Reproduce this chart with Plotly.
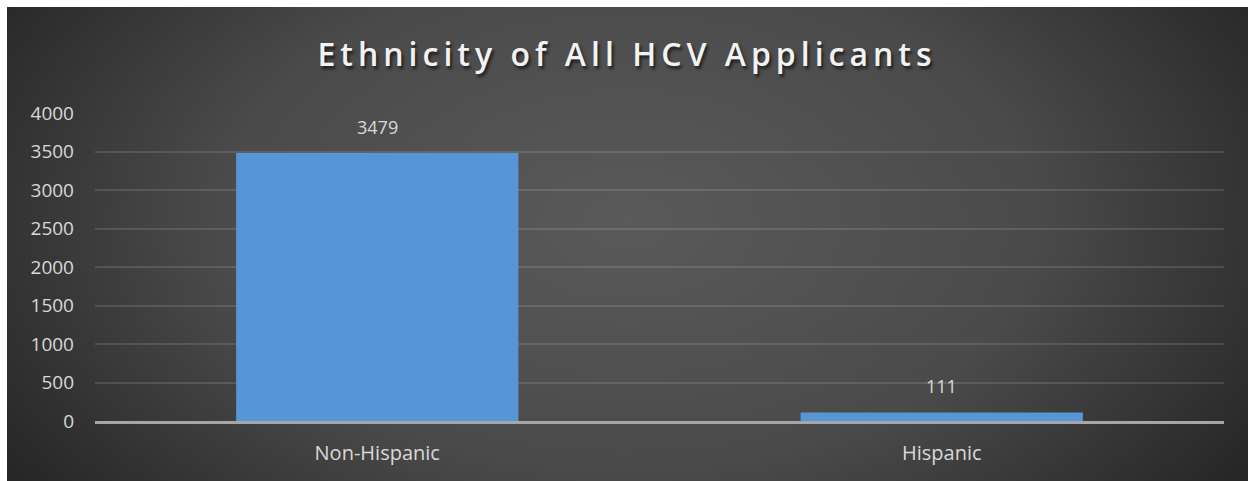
import plotly.graph_objects as go
import urllib.parse

categories = ["Non-Hispanic", "Hispanic"]
values = [3479, 111]
y_ticks = [0, 500, 1000, 1500, 2000, 2500, 3000, 3500, 4000]
title_text = "Ethnicity of All HCV Applicants"

W, H = 1248, 481
ML, MR, MT, MB = 95, 24, 113, 60
pw = W - ML - MR
ph = H - MT - MB

svg = (
    '<svg xmlns="http://www.w3.org/2000/svg" width="1241" height="474" preserveAspectRatio="none" viewBox="0 0 1241 474">'
    '<defs><radialGradient id="g" cx="50%" cy="45%" r="60%" fx="50%" fy="45%" gradientTransform="translate(0.5 0.45) scale(1 1.6) translate(-0.5 -0.45)">'
    '<stop offset="0%" stop-color="#5a5a5a"/>'
    '<stop offset="55%" stop-color="#4a4a4a"/>'
    '<stop offset="100%" stop-color="#262626"/>'
    '</radialGradient></defs>'
    '<rect width="1241" height="474" fill="url(#g)"/></svg>'
)
bg_uri = "data:image/svg+xml;charset=utf-8," + urllib.parse.quote(svg)

x0 = (7 - ML) / pw
x1 = (W - ML) / pw
ytop = (H - MB - 7) / ph
ybot = (H - MB - H) / ph

fig = go.Figure()
fig.add_trace(go.Bar(
    x=categories, y=values,
    marker=dict(color="#5796d6", line=dict(width=0)),
    hoverinfo="skip",
))

for c, v in zip(categories, values):
    fig.add_annotation(
        x=c, y=v, text=str(v), showarrow=False,
        yanchor="bottom", yshift=12,
        font=dict(family="Open Sans", size=18, color="#d9d9d9"),
    )

fig.update_layout(
    width=W, height=H,
    margin=dict(l=ML, r=MR, t=MT, b=MB, autoexpand=False),
    paper_bgcolor="#ffffff",
    plot_bgcolor="rgba(0,0,0,0)",
    bargap=0.5,
    showlegend=False,
    title=dict(
        text='<span style="letter-spacing:5px">' + title_text + '</span>',
        x=627 / W, xanchor="center",
        y=1 - 55 / H, yanchor="middle",
        font=dict(family="Open Sans", size=32, color="#f2f2f2", weight=600,
                  shadow="2px 3px 3px rgba(0,0,0,0.6)"),
    ),
    images=[dict(
        source=bg_uri, xref="paper", yref="paper",
        x=x0, y=ytop, sizex=x1 - x0, sizey=ytop - ybot,
        xanchor="left", yanchor="top", sizing="stretch", layer="below",
    )],
    font=dict(family="Open Sans", color="#d9d9d9"),
)

fig.update_yaxes(
    range=[0, 4000], tickvals=y_ticks, automargin=False,
    showgrid=True, gridcolor="rgba(255,255,255,0.12)", gridwidth=1.5,
    zeroline=False, showline=False,
    tickfont=dict(family="Open Sans", size=19, color="#d9d9d9"),
    ticks="", ticklabelstandoff=20,
)
fig.update_xaxes(
    automargin=False,
    showgrid=False, zeroline=False,
    showline=True, linecolor="#a6a6a6", linewidth=2.5,
    tickfont=dict(family="Open Sans", size=20, color="#d9d9d9"),
    ticks="", ticklabelstandoff=12,
)

fig.write_html("out.html")
